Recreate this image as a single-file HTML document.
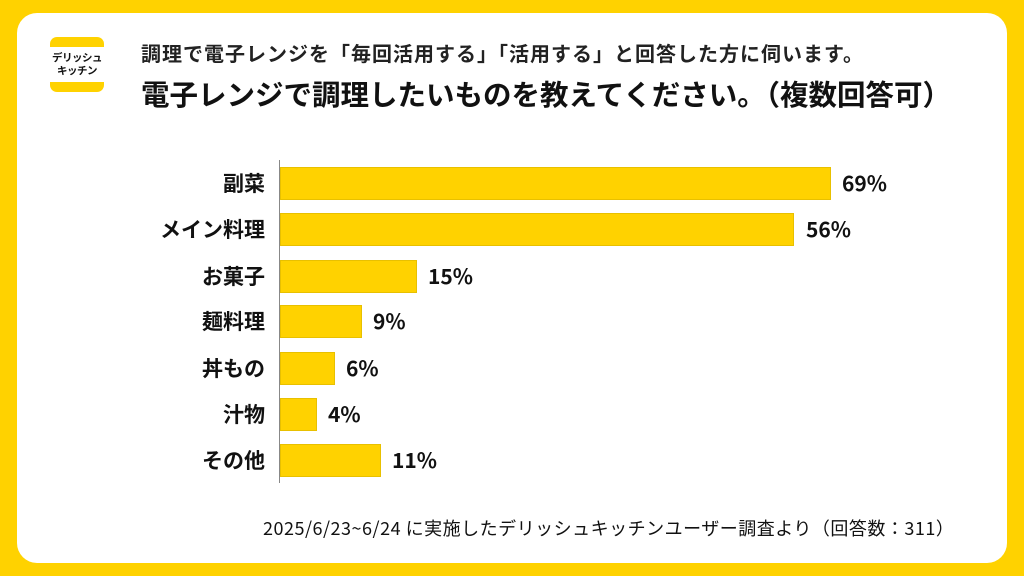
<!DOCTYPE html>
<html><head><meta charset="utf-8"><style>
body{margin:0;width:1024px;height:576px;background:#FFD200;font-family:"Noto Sans CJK JP",sans-serif;overflow:hidden;position:relative}
.card{position:absolute;left:17px;top:13px;width:990px;height:550px;background:#fff;border-radius:20px}
.logo{position:absolute;left:50px;top:37px;width:54px;height:55px;background:#FFD200;border-radius:7px}
.logo .w{position:absolute;left:0;top:10px;width:54px;height:35px;background:#fff;font-size:10.5px;font-weight:bold;text-align:center;line-height:13px;padding-top:4px;box-sizing:border-box;color:#111;letter-spacing:-0.5px}
.t1{position:absolute;left:141px;top:40px;font-size:20px;line-height:26px;font-weight:bold;color:#222;white-space:nowrap;letter-spacing:1px}
.t2{position:absolute;left:141px;top:76px;font-size:28.5px;line-height:36px;font-weight:bold;color:#111;white-space:nowrap}
.axis{position:absolute;left:279px;top:160px;width:1px;height:323px;background:#888}
.bar{position:absolute;left:280px;height:33px;background:#FFD200;box-sizing:border-box;border:1px solid #e8c000}
.lb{position:absolute;right:759px;font-size:21px;font-weight:bold;color:#111;line-height:33px;white-space:nowrap}
.v{position:absolute;font-size:21px;font-weight:bold;color:#111;line-height:33px}
.foot{position:absolute;left:263px;top:515px;font-size:18px;line-height:26px;color:#111;white-space:nowrap;letter-spacing:0.5px}
</style></head><body>
<div class="card"></div>
<div class="logo"><div class="w">デリッシュ<br>キッチン</div></div>
<div class="t1">調理で電子レンジを「毎回活用する」「活用する」と回答した方に伺います。</div>
<div class="t2">電子レンジで調理したいものを教えてください。（複数回答可）</div>
<div class="axis"></div>
<div class="bar" style="top:167px;width:551px"></div><div class="lb" style="top:167px">副菜</div><div class="v" style="top:167px;left:842px">69%</div>
<div class="bar" style="top:213px;width:514px"></div><div class="lb" style="top:213px">メイン料理</div><div class="v" style="top:213px;left:806px">56%</div>
<div class="bar" style="top:260px;width:137px"></div><div class="lb" style="top:260px">お菓子</div><div class="v" style="top:260px;left:428px">15%</div>
<div class="bar" style="top:305px;width:82px"></div><div class="lb" style="top:305px">麺料理</div><div class="v" style="top:305px;left:373px">9%</div>
<div class="bar" style="top:352px;width:55px"></div><div class="lb" style="top:352px">丼もの</div><div class="v" style="top:352px;left:346px">6%</div>
<div class="bar" style="top:398px;width:37px"></div><div class="lb" style="top:398px">汁物</div><div class="v" style="top:398px;left:328px">4%</div>
<div class="bar" style="top:444px;width:101px"></div><div class="lb" style="top:444px">その他</div><div class="v" style="top:444px;left:392px">11%</div>
<div class="foot">2025/6/23~6/24 に実施したデリッシュキッチンユーザー調査より（回答数：311）</div>
</body></html>
